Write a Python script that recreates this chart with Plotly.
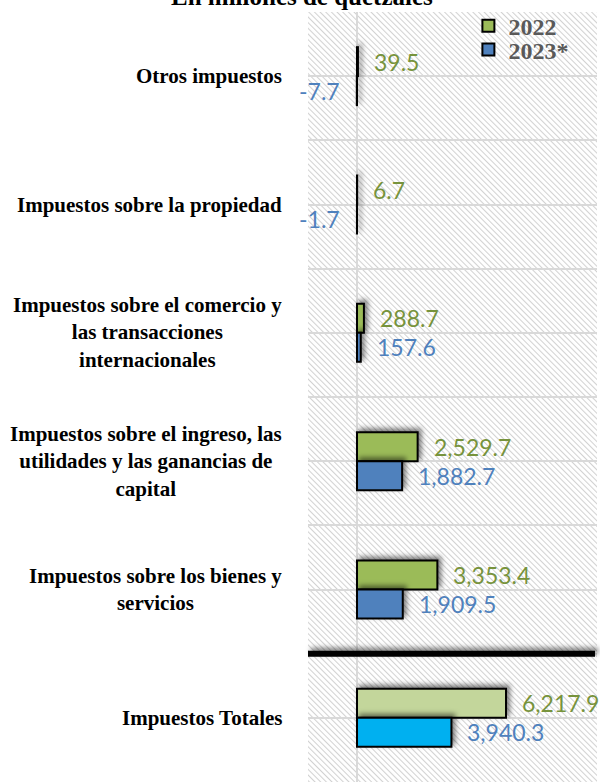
import base64
import plotly.graph_objects as go

# ---------------- data ----------------
categories = [
    "Otros impuestos",
    "Impuestos sobre la propiedad",
    "Impuestos sobre el comercio y<br>las transacciones<br>internacionales",
    "Impuestos sobre el ingreso, las<br>utilidades y las ganancias de<br>capital",
    "Impuestos sobre los bienes y<br>servicios",
    "Impuestos Totales",
]
values_2022 = [39.5, 6.7, 288.7, 2529.7, 3353.4, 6217.9]
values_2023 = [-7.7, -1.7, 157.6, 1882.7, 1909.5, 3940.3]
series_names = ["2022", "2023*"]
title_text = "En millones de quetzales"

# ---------------- style ----------------
GREEN = "#9BBB59"
BLUE = "#4F81BD"
GREEN_TOTAL = "#C3D69B"
BLUE_TOTAL = "#00B0F0"
GREEN_LABEL = "#77933C"
BLUE_LABEL = "#4F81BD"
GRID = "#D9D9D9"
SERIF = "Liberation Serif, Times New Roman, serif"
SANS = "Lato, Carlito, Calibri, sans-serif"

W, H = 600, 782
ML, MR, MT, MB = 308, 3, 12, 0
X_RANGE = [-2045, 10015]
BAR_W = 0.226

n = len(categories)
pos = list(range(n))
total_idx = n - 1

colors_2022 = [GREEN_TOTAL if i == total_idx else GREEN for i in pos]
colors_2023 = [BLUE_TOTAL if i == total_idx else BLUE for i in pos]

fig = go.Figure()

fig.add_trace(go.Bar(
    name=series_names[0], orientation="h", y=pos, x=values_2022,
    width=BAR_W, offset=-BAR_W, legend="legend",
    marker=dict(color=colors_2022, line=dict(color="black", width=2)),
    hoverinfo="x",
))
fig.add_trace(go.Bar(
    name=series_names[1], orientation="h", y=pos, x=values_2023,
    width=BAR_W, offset=0, legend="legend2",
    marker=dict(color=colors_2023, line=dict(color="black", width=2)),
    hoverinfo="x",
))

annotations = []
# data labels
for vals, col, dy in ((values_2022, GREEN_LABEL, -BAR_W / 2), (values_2023, BLUE_LABEL, BAR_W / 2)):
    for i, v in zip(pos, vals):
        annotations.append(dict(
            x=v, y=i + dy, xref="x", yref="y", text=f"{v:,.1f}",
            showarrow=False, xanchor="left" if v >= 0 else "right",
            xshift=14 if v >= 0 else -15,
            font=dict(family=SANS, size=23, color=col),
        ))
# category labels
for i, c in zip(pos, categories):
    annotations.append(dict(
        x=0, y=i, xref="paper", yref="y", text=c,
        showarrow=False, xanchor="right", xshift=-24, align="center",
        font=dict(family=SERIF, size=21, color="black", weight="bold"),
    ))
# (clipped) title
annotations.append(dict(
    x=-0.02, y=1, xref="paper", yref="paper", text=title_text,
    showarrow=False, xanchor="center", yanchor="bottom", yshift=0,
    font=dict(family=SERIF, size=25, color="black", weight="bold"),
))

# hatched plot background
pw, ph = W - ML - MR, H - MT - MB
svg = (
    f"<svg xmlns='http://www.w3.org/2000/svg' width='{pw}' height='{ph}'>"
    "<defs><pattern id='p' width='4' height='4' patternUnits='userSpaceOnUse' "
    "patternTransform='rotate(-45)'>"
    "<line x1='0.5' y1='0' x2='0.5' y2='4' stroke='#D2D2D2' stroke-width='1.1'/>"
    "</pattern></defs><rect width='100%' height='100%' fill='white'/>"
    "<rect width='100%' height='100%' fill='url(#p)'/></svg>"
)
img_src = "data:image/svg+xml;base64," + base64.b64encode(svg.encode()).decode()

legend_common = dict(
    x=0.555, xanchor="left", yanchor="top",
    bgcolor="rgba(0,0,0,0)", borderwidth=0,
    font=dict(family=SERIF, size=24, color="#595959", weight="bold"),
    itemwidth=30,
)

fig.update_layout(
    width=W, height=H,
    margin=dict(l=ML, r=MR, t=MT, b=MB, pad=0),
    paper_bgcolor="white", plot_bgcolor="rgba(0,0,0,0)",
    barmode="overlay",
    showlegend=True,
    legend=dict(y=1.011, **legend_common),
    legend2=dict(y=0.980, **legend_common),
    images=[dict(source=img_src, xref="paper", yref="paper", x=0, y=1,
                 sizex=1, sizey=1, sizing="stretch", xanchor="left",
                 yanchor="top", layer="below")],
    annotations=annotations,
    shapes=[dict(type="line", xref="paper", yref="y", x0=0, x1=0.993,
                 y0=total_idx - 0.5, y1=total_idx - 0.5,
                 line=dict(color="black", width=6), layer="above")],
    xaxis=dict(range=X_RANGE, showgrid=False, showticklabels=False, ticks="",
               zeroline=True, zerolinecolor=GRID, zerolinewidth=2,
               showline=False, fixedrange=True),
    yaxis=dict(range=[n - 0.5, -0.5], tickvals=pos, showticklabels=False,
               ticks="", showgrid=True, gridcolor=GRID, gridwidth=2,
               zeroline=False, showline=False, fixedrange=True,
               minor=dict(tickvals=[i - 0.5 for i in range(n + 1)],
                          showgrid=True, gridcolor=GRID, gridwidth=2, ticks="")),
)

post_js = """
document.body.style.margin = '0';
var gd = document.getElementById('{plot_id}');
var svgEl = gd.querySelector('svg.main-svg');
var NS = 'http://www.w3.org/2000/svg';
var defs = svgEl.querySelector('defs') || svgEl.insertBefore(document.createElementNS(NS, 'defs'), svgEl.firstChild);
var f = document.createElementNS(NS, 'filter');
f.setAttribute('id', 'barshadow');
f.setAttribute('filterUnits', 'userSpaceOnUse');
f.setAttribute('x', '-2000'); f.setAttribute('y', '-2000');
f.setAttribute('width', '5000'); f.setAttribute('height', '5000');
var ds = document.createElementNS(NS, 'feDropShadow');
ds.setAttribute('dx', '3'); ds.setAttribute('dy', '-3');
ds.setAttribute('stdDeviation', '2.5');
ds.setAttribute('flood-color', '#000'); ds.setAttribute('flood-opacity', '0.5');
f.appendChild(ds); defs.appendChild(f);
gd.querySelectorAll('.barlayer .point path').forEach(function(p) { p.setAttribute('filter', 'url(#barshadow)'); });
gd.querySelectorAll('.layer-above .shapelayer path').forEach(function(p) { p.setAttribute('filter', 'url(#barshadow)'); });
"""

fig.write_html("out.html", post_script=post_js, config={"displayModeBar": False})
